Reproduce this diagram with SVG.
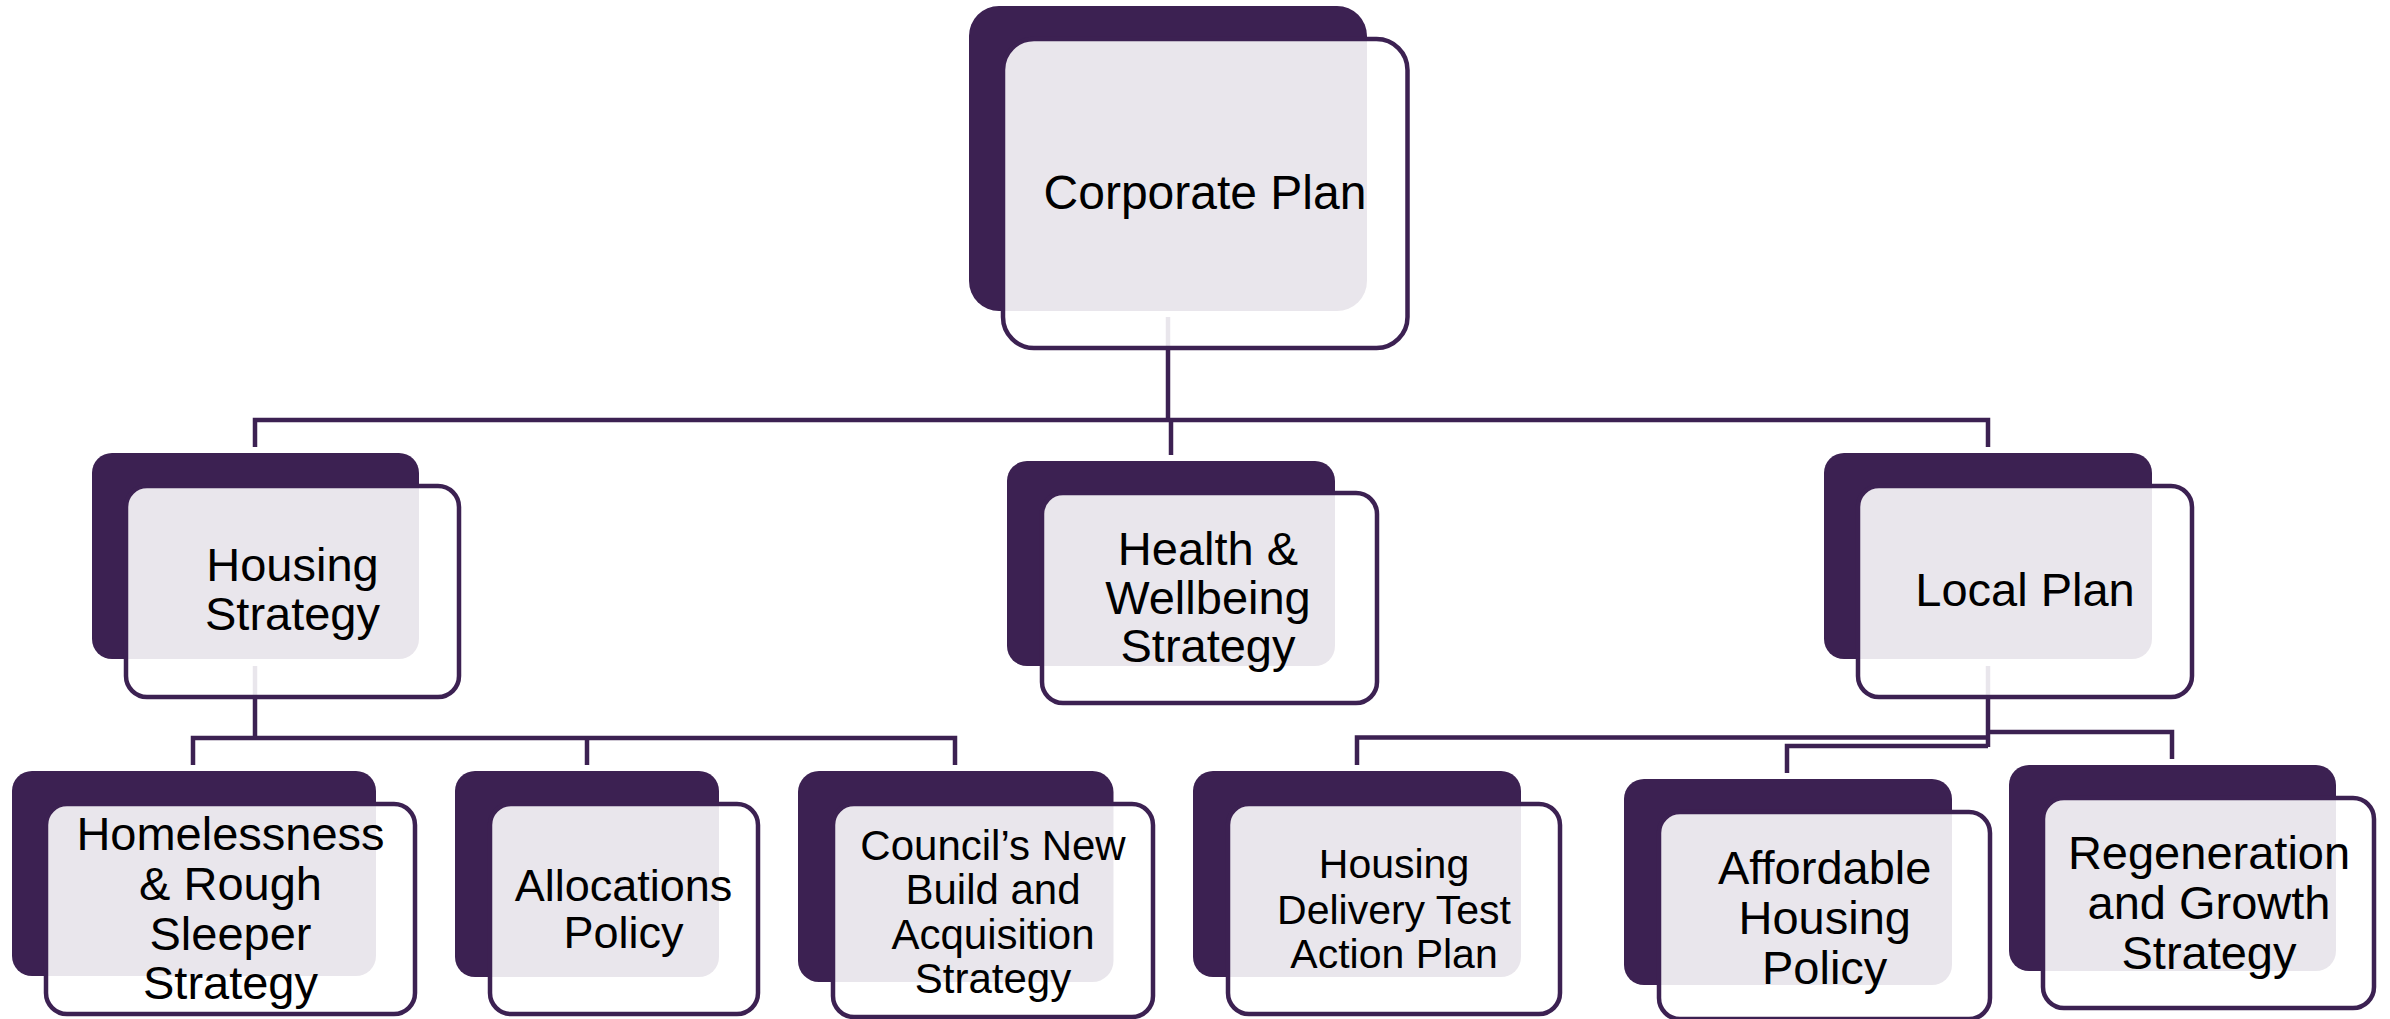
<svg xmlns="http://www.w3.org/2000/svg" width="2390" height="1019" viewBox="0 0 2390 1019">
<style>
.dk{fill:#3c2152}
.ol{fill:#ffffff;fill-opacity:0.89;stroke:#3c2152;stroke-width:4.5}
.cn{fill:none;stroke:#3c2152;stroke-width:4.5}
text{font-family:"Liberation Sans",Arial,sans-serif;fill:#000;text-anchor:middle}
</style>
<rect width="2390" height="1019" fill="#ffffff"/>
<g id="connectors">
<path class="cn" d="M1168,317 V420"/>
<path class="cn" d="M255,447 V420 H1988 V447"/>
<path class="cn" d="M1171,420 V455"/>
<path class="cn" d="M255,666 V739"/>
<path class="cn" d="M193,765 V738 H955 V765"/>
<path class="cn" d="M587,738 V765"/>
<path class="cn" d="M1988,666 V747"/>
<path class="cn" d="M1357,765 V737.5 H1988"/>
<path class="cn" d="M1787,773 V746 H1988"/>
<path class="cn" d="M1988,732 H2172 V759"/>
</g>
<g id="corporate-plan">
<rect class="dk" x="969" y="6" width="398" height="305" rx="30"/>
<rect class="ol" x="1003" y="39" width="404.5" height="309" rx="31"/>
<text x="1205" y="209" font-size="48">Corporate Plan</text>
</g>
<g id="housing-strategy">
<rect class="dk" x="92" y="453" width="327" height="206" rx="20"/>
<rect class="ol" x="126" y="486" width="333" height="211" rx="21"/>
<text x="292.5" font-size="47"><tspan x="292.5" y="581">Housing</tspan><tspan x="292.5" y="630">Strategy</tspan></text>
</g>
<g id="health-wellbeing-strategy">
<rect class="dk" x="1007" y="461" width="328" height="205" rx="20"/>
<rect class="ol" x="1042" y="493" width="335" height="210" rx="21"/>
<text x="1208" font-size="47"><tspan x="1208" y="565">Health &amp;</tspan><tspan x="1208" y="614">Wellbeing</tspan><tspan x="1208" y="662">Strategy</tspan></text>
</g>
<g id="local-plan">
<rect class="dk" x="1824" y="453" width="328" height="206" rx="20"/>
<rect class="ol" x="1858" y="486" width="334" height="211" rx="21"/>
<text x="2025" y="606" font-size="47">Local Plan</text>
</g>
<g id="homelessness-strategy">
<rect class="dk" x="12" y="771" width="364" height="205" rx="20"/>
<rect class="ol" x="46" y="804" width="369" height="210" rx="21"/>
<text x="230.5" font-size="47"><tspan x="230.5" y="850">Homelessness</tspan><tspan x="230.5" y="900">&amp; Rough</tspan><tspan x="230.5" y="950">Sleeper</tspan><tspan x="230.5" y="999">Strategy</tspan></text>
</g>
<g id="allocations-policy">
<rect class="dk" x="455" y="771" width="264" height="206" rx="20"/>
<rect class="ol" x="490" y="804" width="268" height="210" rx="21"/>
<text x="623.5" font-size="45"><tspan x="623.5" y="901">Allocations</tspan><tspan x="623.5" y="948">Policy</tspan></text>
</g>
<g id="councils-new-build">
<rect class="dk" x="798" y="771" width="315.5" height="211" rx="21"/>
<rect class="ol" x="833" y="804" width="320" height="213" rx="21"/>
<text x="993" font-size="42"><tspan x="993" y="860">Council’s New</tspan><tspan x="993" y="904">Build and</tspan><tspan x="993" y="949">Acquisition</tspan><tspan x="993" y="993">Strategy</tspan></text>
</g>
<g id="housing-delivery-test">
<rect class="dk" x="1193" y="771" width="328" height="206" rx="20"/>
<rect class="ol" x="1228" y="804" width="332" height="210" rx="21"/>
<text x="1394" font-size="41"><tspan x="1394" y="878">Housing</tspan><tspan x="1394" y="924">Delivery Test</tspan><tspan x="1394" y="968">Action Plan</tspan></text>
</g>
<g id="affordable-housing-policy">
<rect class="dk" x="1624" y="779" width="328" height="206" rx="20"/>
<rect class="ol" x="1659" y="812" width="331" height="207" rx="21"/>
<text x="1824.7" font-size="47"><tspan x="1824.7" y="884">Affordable</tspan><tspan x="1824.7" y="934">Housing</tspan><tspan x="1824.7" y="984">Policy</tspan></text>
</g>
<g id="regeneration-growth-strategy">
<rect class="dk" x="2009" y="765" width="327" height="206" rx="20"/>
<rect class="ol" x="2043" y="798" width="331" height="210" rx="21"/>
<text x="2209" font-size="47"><tspan x="2209" y="869">Regeneration</tspan><tspan x="2209" y="919">and Growth</tspan><tspan x="2209" y="969">Strategy</tspan></text>
</g>
</svg>
